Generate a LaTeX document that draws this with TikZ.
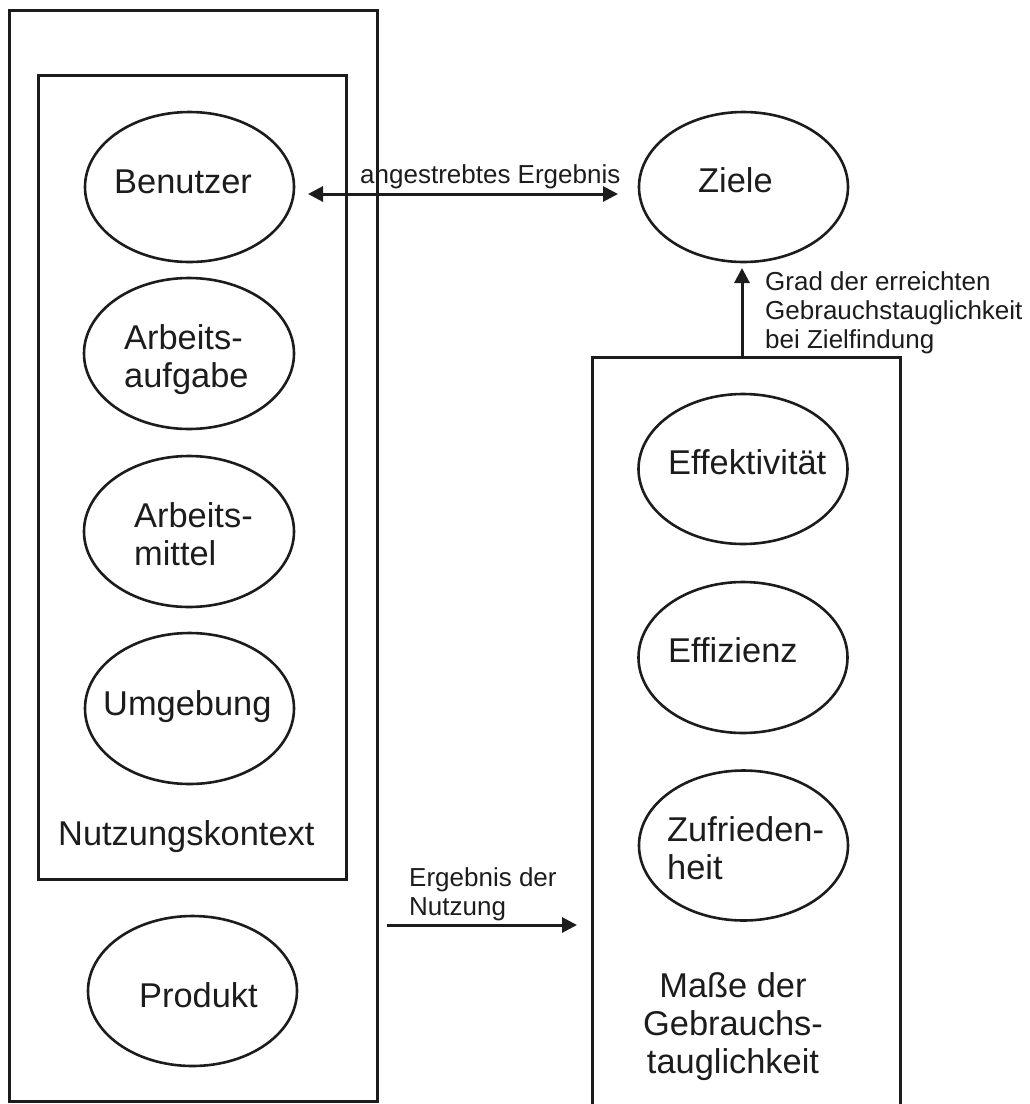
\documentclass[tikz,border=0pt]{standalone}
\usepackage{fontspec}
\setmainfont{Liberation Sans}
\usetikzlibrary{shapes.geometric,arrows.meta}
\definecolor{ink}{HTML}{1C1C1C}
\begin{document}
\begin{tikzpicture}[x=1pt,y=-1pt,
  box/.style={draw=ink,line width=3pt},
  ell/.style={ellipse,draw=ink,line width=2.6pt,minimum width=209pt,minimum height=150pt,inner sep=0pt},
  big/.style={font=\fontsize{34.4}{38}\selectfont,text=ink,inner sep=0pt,align=left,anchor=base west},
  small/.style={font=\fontsize{26}{29}\selectfont,text=ink,inner sep=0pt,align=left,anchor=base west},
  arr/.style={line width=3pt,draw=ink,-{Triangle[length=15pt,width=15pt]}},
  darr/.style={line width=3pt,draw=ink,{Triangle[length=15pt,width=15pt]}-{Triangle[length=15pt,width=15pt]}}]
\useasboundingbox (0,0) rectangle (1029,1104);
% boxes
\node[box,minimum width=368pt,minimum height=1091pt,inner sep=0pt] (outer) at (193,555.5) {};
\node[box,minimum width=308pt,minimum height=804pt,inner sep=0pt] (kontext) at (192,477) {};
\draw[box] (592,1110) -- (592,357) -- (900,357) -- (900,1110);
% ellipses left
\node[ell] (benutzer) at (189.5,187) {};
\node[ell,minimum width=210pt,minimum height=151pt] (aufgabe) at (189,353.5) {};
\node[ell,minimum width=210pt,minimum height=151pt] (mittel) at (189,531.5) {};
\node[ell,minimum height=151pt] (umgebung) at (189.5,708.5) {};
\node[ell] (produkt) at (192.5,991) {};
% ellipses right
\node[ell] (ziele) at (743.5,187) {};
\node[ell] (effekt) at (743,469) {};
\node[ell,minimum height=151pt] (effiz) at (743,657.5) {};
\node[ell] (zufried) at (743.5,845.5) {};
% texts (multi-line nodes: base = baseline of last line)
\node[big] (tben) at (114,193) {Benutzer};
\node[big] (tauf) at (124,387) {Arbeits-\\aufgabe};
\node[big] (tmit) at (134,565) {Arbeits-\\mittel};
\node[big] (tumg) at (103,715) {Umgebung};
\node[big] (tkon) at (58,845) {Nutzungskontext};
\node[big] (tpro) at (139,1007) {Produkt};
\node[big] (tzie) at (698,192) {Ziele};
\node[big] (teff) at (668,474) {Effektivität};
\node[big] (tefz) at (668,662) {Effizienz};
\node[big] (tzuf) at (667,879) {Zufrieden-\\heit};
\node[big,align=center,anchor=base] (tmas) at (733,1073) {Maße der\\Gebrauchs-\\tauglichkeit};
% connectors
\coordinate (a1) at (308,194);
\coordinate (a2) at (618,194);
\draw[darr] (a1) -- (a2);
\node[small] (lang) at (360,183) {angestrebtes Ergebnis};
\coordinate (v1) at (742,357);
\coordinate (v2) at (742,268);
\draw[arr] (v1) -- (v2);
\node[small] (lgrad) at (765,348) {Grad der erreichten\\Gebrauchstauglichkeit\\bei Zielfindung};
\coordinate (n1) at (387,925);
\coordinate (n2) at (577,925);
\draw[arr] (n1) -- (n2);
\node[small] (lerg) at (409,915) {Ergebnis der\\Nutzung};
\end{tikzpicture}
\end{document}
